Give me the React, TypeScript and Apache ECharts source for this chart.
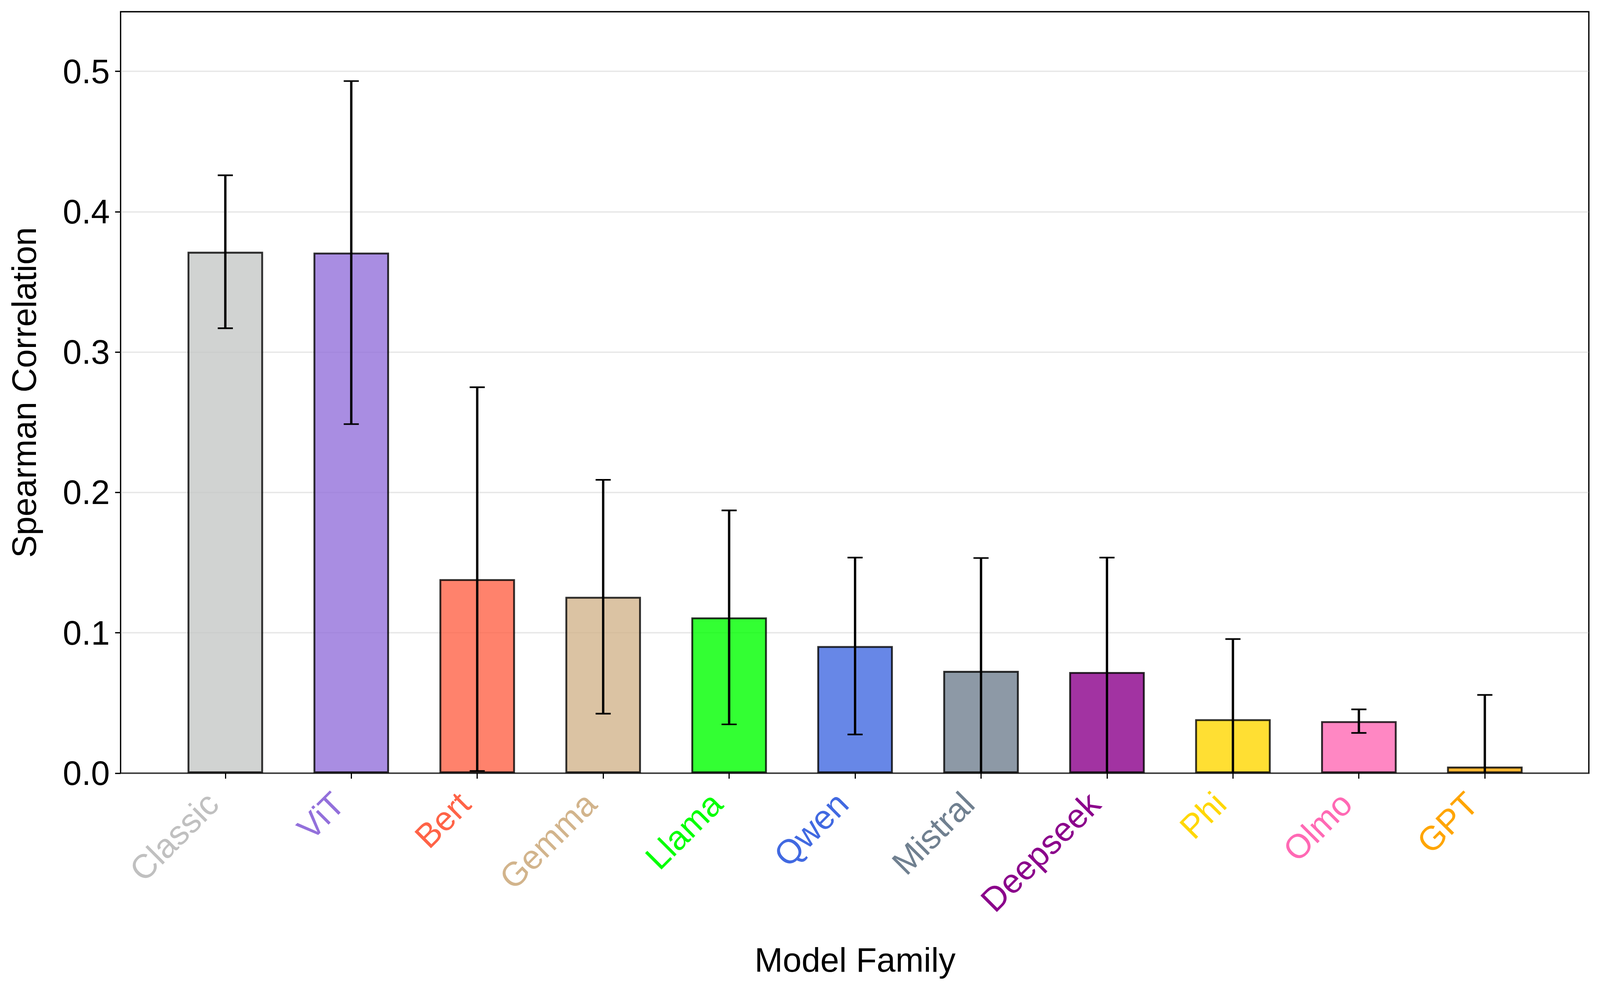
import React, { useEffect, useRef } from "react";
import * as echarts from "echarts";

const categories = ["Classic", "ViT", "Bert", "Gemma", "Llama", "Qwen", "Mistral", "Deepseek", "Phi", "Olmo", "GPT"];
const meanValues = [0.3715, 0.3709, 0.1383, 0.1257, 0.111, 0.0906, 0.0729, 0.0721, 0.0385, 0.0371, 0.0047];
const errorValues = [0.0545, 0.1222, 0.1367, 0.0833, 0.0762, 0.063, 0.0804, 0.0815, 0.0571, 0.0084, 0.0511];
const labelColors = ["#c0c0c0", "#9370db", "#ff6347", "#d2b48c", "#00ff00", "#4169e1", "#708090", "#8b008b", "#ffd700", "#ff69b4", "#ffa500"];
const barBaseColors = ["#c5c8c7", "#9370db", "#ff6347", "#d2b48c", "#00ff00", "#4169e1", "#708090", "#8b008b", "#ffd700", "#ff69b4", "#ffa500"];
const yTicks = [0, 0.1, 0.2, 0.3, 0.4, 0.5];
const yMin = 0;
const yMax = 0.5425;

const FONT = "'Liberation Sans', Arial, Helvetica, sans-serif";
const REF_W = 4445;
const REF_H = 2539;

function withAlpha(hex: string, a: number) {
  const r = parseInt(hex.slice(1, 3), 16);
  const g = parseInt(hex.slice(3, 5), 16);
  const b = parseInt(hex.slice(5, 7), 16);
  return `rgba(${r},${g},${b},${a})`;
}

export default function App() {
  const ref = useRef<HTMLDivElement>(null);
  useEffect(() => {
    document.body.style.margin = "0";
    const el = ref.current;
    if (!el) return;
    const W = el.clientWidth || REF_W;
    const H = el.clientHeight || REF_H;
    const sx = W / REF_W;
    const sy = H / REF_H;
    const fs = 92 * Math.pow(sx, 0.75) * Math.pow(sy, 0.25);
    const chart = echarts.init(el, null, { renderer: "svg" });
    const option: any = {
      animation: false,
      backgroundColor: "#ffffff",
      grid: [
        { left: 335 * sx, right: W - 4414 * sx, top: 30 * sy, bottom: H - 1979 * sy, show: true, borderColor: "#000", borderWidth: 3.3, backgroundColor: "transparent", z: 0 },
        { left: 451 * sx, right: W - 4300 * sx, top: 30 * sy, bottom: H - 1979 * sy, show: false },
      ],
      xAxis: [
        {
          type: "value", gridIndex: 0, min: 0, max: 1,
          axisLine: { show: false }, axisTick: { show: false }, axisLabel: { show: false }, splitLine: { show: false },
        },
        {
          type: "category", gridIndex: 1, data: categories.map((c, i) => ({ value: c, textStyle: { color: labelColors[i] } })),
          boundaryGap: true,
          axisLine: { show: false },
          axisTick: { show: true, alignWithLabel: true, length: 14, lineStyle: { color: "#000", width: 3 } },
          axisLabel: {
            interval: 0, rotate: 45, margin: 31 * sy, padding: [0, 50 * sx, 0, 0],
            fontSize: fs, fontFamily: FONT, hideOverlap: false,
          },
          splitLine: { show: false },
          name: "Model Family", nameLocation: "middle", nameGap: 478 * sy,
          nameTextStyle: { fontSize: fs, fontFamily: FONT, color: "#000", verticalAlign: "middle", align: "center" },
        },
      ],
      yAxis: [
        {
          type: "value", gridIndex: 0, min: yMin, max: yMax, interval: 0.1,
          axisLine: { show: false },
          axisTick: { show: true, length: 14, lineStyle: { color: "#000", width: 3.3 }, customValues: yTicks },
          axisLabel: { margin: 30 * sx, fontSize: fs, fontFamily: FONT, color: "#000", customValues: yTicks, formatter: (v: number) => v.toFixed(1) },
          splitLine: { show: true, lineStyle: { color: "rgba(176,176,176,0.3)", width: 3.3 } },
          name: "Spearman Correlation", nameLocation: "middle", nameGap: 268 * sx,
          nameTextStyle: { fontSize: fs, fontFamily: FONT, color: "#000", verticalAlign: "middle", align: "center" },
        },
        {
          type: "value", gridIndex: 1, min: yMin, max: yMax, interval: 0.1,
          axisLine: { show: false }, axisTick: { show: false }, axisLabel: { show: false }, splitLine: { show: false },
        },
      ],
      series: [
        {
          type: "bar", xAxisIndex: 1, yAxisIndex: 1, barWidth: 210 * sx, z: 2,
          data: meanValues.map((v, i) => ({
            value: v,
            itemStyle: { color: withAlpha(barBaseColors[i], 0.8), borderColor: "rgba(0,0,0,0.8)", borderWidth: 4.8 },
          })),
        },
        {
          type: "custom", xAxisIndex: 1, yAxisIndex: 1, z: 5,
          data: meanValues.map((m, i) => [i, m, errorValues[i]]),
          renderItem: (params: any, api: any) => {
            const i = api.value(0);
            const m = api.value(1);
            const e = api.value(2);
            const hi = m + e;
            const loRaw = m - e;
            const lo = Math.max(loRaw, yMin);
            const pTop = api.coord([i, hi]);
            const pBot = api.coord([i, lo]);
            const capHalf = 21 * sx;
            const children: any[] = [
              { type: "line", shape: { x1: pTop[0], y1: pTop[1], x2: pBot[0], y2: pBot[1] }, style: { stroke: "#000", lineWidth: 6 } },
              { type: "line", shape: { x1: pTop[0] - capHalf, y1: pTop[1], x2: pTop[0] + capHalf, y2: pTop[1] }, style: { stroke: "#000", lineWidth: 4.2 } },
            ];
            if (loRaw >= yMin) {
              children.push({ type: "line", shape: { x1: pBot[0] - capHalf, y1: pBot[1], x2: pBot[0] + capHalf, y2: pBot[1] }, style: { stroke: "#000", lineWidth: 4.2 } });
            }
            return { type: "group", children };
          },
        },
      ],
    };
    chart.setOption(option);
    return () => chart.dispose();
  }, []);
  return <div ref={ref} style={{ position: "fixed", left: 0, top: 0, width: "100vw", height: "100vh" }} />;
}
